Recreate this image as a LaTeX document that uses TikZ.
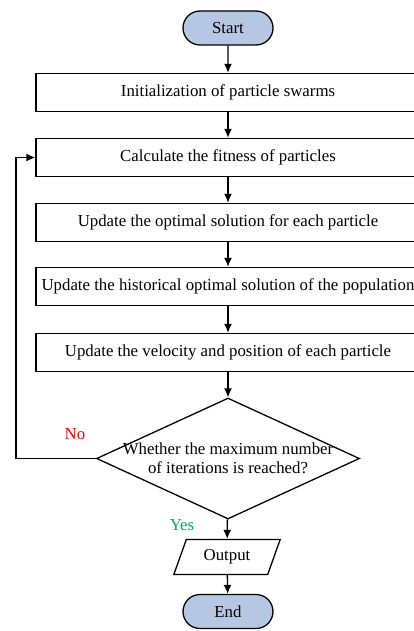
\documentclass[tikz,border=0pt]{standalone}
\usepackage{fontspec}
\setmainfont{Liberation Serif}
\usepackage{tikz}
\usetikzlibrary{shapes,arrows.meta}
\definecolor{pillblue}{RGB}{182,199,228}
\definecolor{nored}{RGB}{255,0,0}
\definecolor{yesgreen}{RGB}{0,176,80}
\tikzstyle{stepbox} = [draw, line width=1.3pt, minimum width=384pt, minimum height=38pt, inner sep=0pt, text centered]
\tikzstyle{pill} = [draw, line width=1.3pt, rounded rectangle, fill=pillblue, minimum width=90pt, minimum height=34pt, inner sep=0pt]
\tikzset{
  line/.style ={draw, line width=1.3pt, -{Latex[length=9pt,width=8pt]}, shorten >=0pt}
}

\begin{document}
\begin{tikzpicture}[x=1pt,y=-1pt,font=\fontsize{16.8}{19}\selectfont]
	\useasboundingbox (0,0) rectangle (414,631);
	\begin{scope}
	\clip (0,0) rectangle (414,631);
	\node [pill] (start) at (228,28) {Start};
	\node [stepbox] (init) at (228,92.5) {Initialization of particle swarms};
	\node [stepbox] (calc) at (228,157.5) {Calculate the fitness of particles};
	\node [stepbox] (pbest) at (228,222.5) {Update the optimal solution for each particle};
	\node [stepbox] (gbest) at (228,286.5) {Update the historical optimal solution of the population};
	\node [stepbox] (move) at (228,352.5) {Update the velocity and position of each particle};
	\node [draw, line width=1.3pt, diamond, minimum width=263pt, minimum height=121pt, inner sep=0pt,
	  label={[align=center, font=\fontsize{16.8}{19}\selectfont]center:Whether the maximum number\\of iterations is reached?}] (check) at (228,458.5) {};
	\node [draw, line width=1.3pt, trapezium, trapezium left angle=64, trapezium right angle=116, trapezium stretches=true,
	  minimum width=107pt, minimum height=35pt, inner sep=0pt] (out) at (227,557) {Output};
	\node [pill] (stop) at (228,611.5) {End};
	\coordinate (turn) at (16,458.5);

	\draw [line] (start) -- (init);
	\draw [line] (init) -- (calc);
	\draw [line] (calc) -- (pbest);
	\draw [line] (pbest) -- (gbest);
	\draw [line] (gbest) -- (move);
	\draw [line] (move) -- (check);
	\draw [line] (check) -- (out);
	\draw [line] (out) -- (stop);
	\draw [line] (check.west) -- (turn) |- (calc.west);
	\node [text=nored] (no) at (75,434) {No};
	\node [text=yesgreen] (yes) at (182,525) {Yes};
	\end{scope}

\end{tikzpicture}
\end{document}
